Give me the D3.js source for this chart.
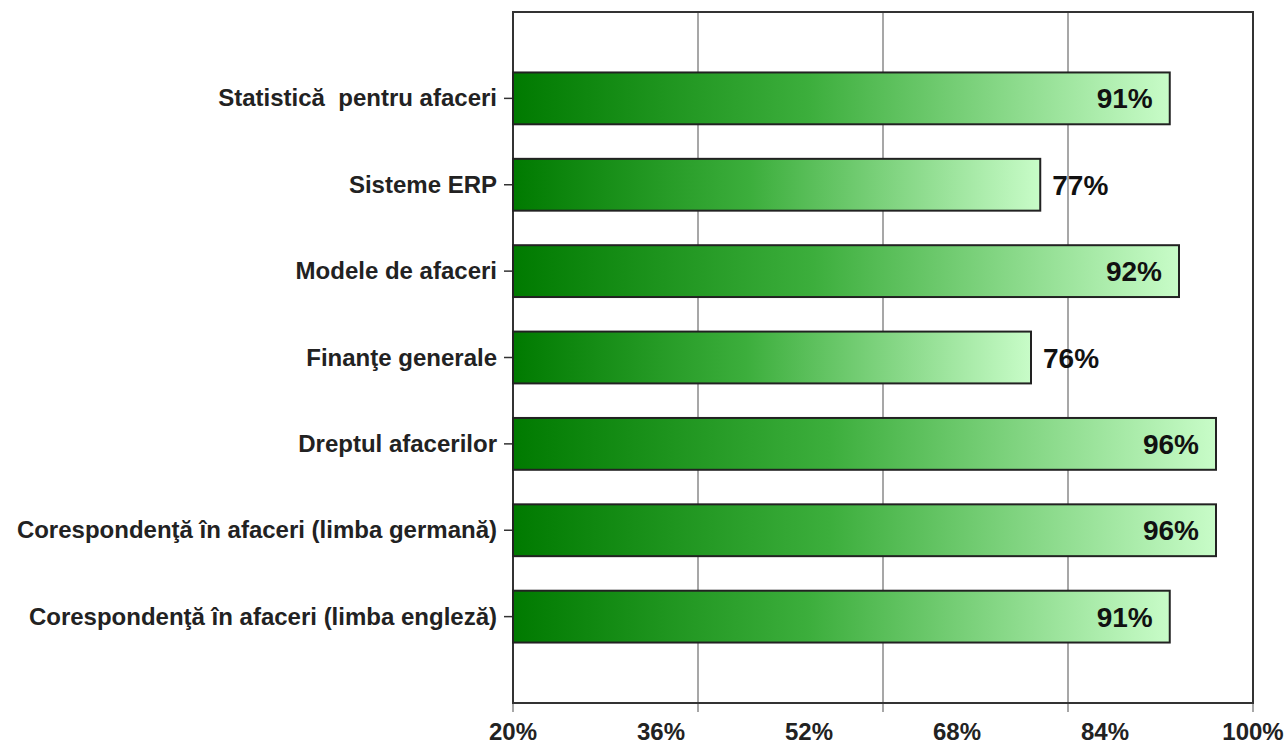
<!DOCTYPE html>
<html lang="ro">
<head>
	<meta charset="UTF-8"/>
	<title>Bar chart</title>
	<script src="https://d3js.org/d3.v7.min.js"></script>
	<style>
		body { margin: 0; background: #fff; }
		text { font-family: "Liberation Sans", Arial, sans-serif; font-weight: bold; white-space: pre; }
	</style>
</head>
<body>
<script>
	var categories = ["Statistică  pentru afaceri", "Sisteme ERP", "Modele de afaceri", "Finanţe generale",
		"Dreptul afacerilor", "Corespondenţă în afaceri (limba germană)", "Corespondenţă în afaceri (limba engleză)"];
	var values = [91, 77, 92, 76, 96, 96, 91];
	var tickLabels = [20, 36, 52, 68, 84, 100];
	var gridValues = [40, 60, 80];
	var tickMarks = [20, 40, 60, 80, 100];

	var w = 1285, h = 744;
	var plotLeft = 513, plotRight = 1253, plotTop = 12, plotBottom = 703;

	var svg = d3.select("body").append("svg").attr("width", w).attr("height", h);

	var xScale = d3.scaleLinear().domain([20, 100]).range([plotLeft, plotRight]);
	var yScale = d3.scalePoint().domain(categories).range([plotTop, plotBottom]).padding(1);
	var barH = yScale.step() * 0.6;

	var grad = svg.append("defs").append("linearGradient")
		.attr("id", "barGrad")
		.attr("x1", "0").attr("x2", "1").attr("y1", "0").attr("y2", "0");
	grad.append("stop").attr("offset", "0%").attr("stop-color", "#007a00");
	grad.append("stop").attr("offset", "45%").attr("stop-color", "#3cae3c");
	grad.append("stop").attr("offset", "100%").attr("stop-color", "#c8fcc8");

	// gridlines
	svg.selectAll(".grid").data(gridValues).enter().append("line")
		.attr("x1", function(d){ return xScale(d); })
		.attr("x2", function(d){ return xScale(d); })
		.attr("y1", plotTop).attr("y2", plotBottom)
		.attr("stroke", "#8a8a8a").attr("stroke-width", 1.5);

	// bottom tick marks
	svg.selectAll(".xtick").data(tickMarks).enter().append("line")
		.attr("x1", function(d){ return xScale(d); })
		.attr("x2", function(d){ return xScale(d); })
		.attr("y1", plotBottom).attr("y2", plotBottom + 9)
		.attr("stroke", "#8a8a8a").attr("stroke-width", 1.5);

	// left tick marks
	svg.selectAll(".ytick").data(categories).enter().append("line")
		.attr("x1", plotLeft - 9).attr("x2", plotLeft)
		.attr("y1", function(d){ return yScale(d); })
		.attr("y2", function(d){ return yScale(d); })
		.attr("stroke", "#333").attr("stroke-width", 1.5);

	// frame
	svg.append("rect")
		.attr("x", plotLeft).attr("y", plotTop)
		.attr("width", plotRight - plotLeft).attr("height", plotBottom - plotTop)
		.attr("fill", "none").attr("stroke", "#333").attr("stroke-width", 2);

	// bars
	svg.selectAll(".bar").data(values).enter().append("rect")
		.attr("x", xScale(20))
		.attr("y", function(d, i){ return yScale(categories[i]) - barH / 2; })
		.attr("width", function(d){ return xScale(d) - xScale(20); })
		.attr("height", barH)
		.attr("fill", "url(#barGrad)")
		.attr("stroke", "#222").attr("stroke-width", 2);

	// value labels
	svg.selectAll(".val").data(values).enter().append("text")
		.attr("x", function(d){ return d >= 90 ? xScale(d) - 17 : xScale(d) + 12; })
		.attr("y", function(d, i){ return yScale(categories[i]) + 10; })
		.attr("text-anchor", function(d){ return d >= 90 ? "end" : "start"; })
		.attr("font-size", 28)
		.attr("fill", "#111")
		.text(function(d){ return d + "%"; });

	// category labels
	svg.selectAll(".cat").data(categories).enter().append("text")
		.attr("x", plotLeft - 16)
		.attr("y", function(d){ return yScale(d) + 8; })
		.attr("text-anchor", "end")
		.attr("font-size", 24)
		.attr("fill", "#222")
		.text(function(d){ return d; });

	// x tick labels
	svg.selectAll(".xlab").data(tickLabels).enter().append("text")
		.attr("x", function(d){ return xScale(d); })
		.attr("y", 740)
		.attr("text-anchor", "middle")
		.attr("font-size", 24)
		.attr("fill", "#222")
		.text(function(d){ return d + "%"; });
</script>
</body>
</html>
